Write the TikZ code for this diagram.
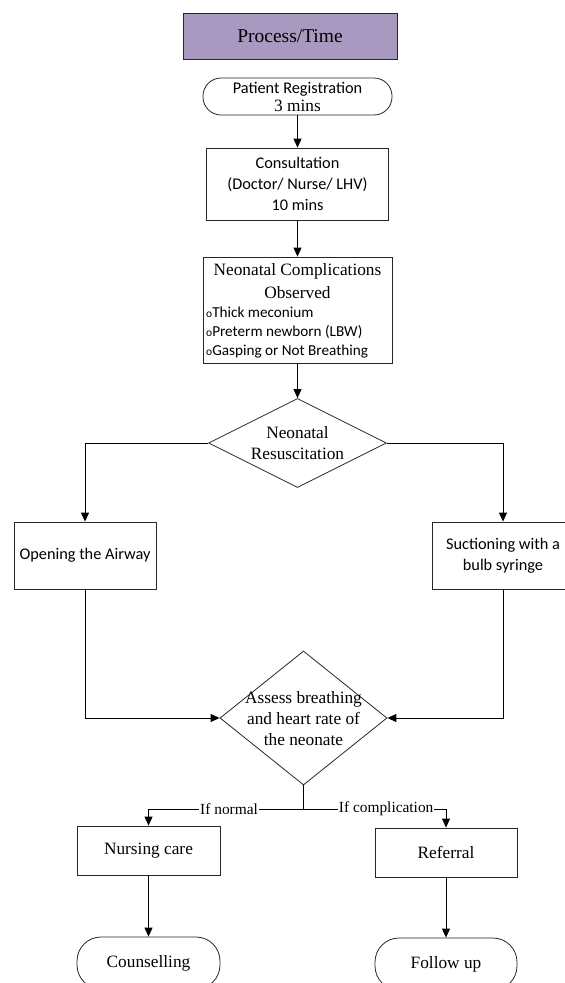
\documentclass[tikz,border=0pt]{standalone}
\usepackage{fontspec}
\setmainfont{Liberation Serif}
\newfontfamily\calib{Carlito}
\usetikzlibrary{shapes.geometric,arrows.meta}
\definecolor{procpurple}{RGB}{168,153,192}
\tikzset{
  base/.style={draw=black!85, line width=0.8pt, inner sep=0pt, align=center},
  boxn/.style={base, rectangle},
  term/.style={base, rectangle, rounded corners=#1},
  dec/.style={base, diamond},
  serif/.style={font=\fontsize{17.3}{21}\selectfont},
  sans/.style={font=\calib\fontsize{16.3}{21}\selectfont},
  conn/.style={draw=black, line width=0.9pt, -{Triangle[length=9pt,width=8pt]}},
  plain/.style={draw=black, line width=0.9pt},
  lbl/.style={fill=white, inner sep=1pt, font=\fontsize{15.4}{18}\selectfont},
}
\begin{document}
\begin{tikzpicture}[x=1pt,y=-1pt]
\path[use as bounding box] (0,0) rectangle (565,983);
\clip (0,0) rectangle (565,983);

% header
\node[boxn, fill=procpurple, minimum width=214pt, minimum height=46pt,
      font=\fontsize{19.5}{22}\selectfont] (proc) at (290,36) {Process/Time};

% main column
\node[term=18pt, minimum width=189pt, minimum height=37pt,
      font=\fontsize{17.3}{18}\selectfont] (reg) at (297.5,96.5)
  {{\calib\fontsize{16.3}{18}\selectfont Patient Registration}\\3 mins};
\node[boxn, sans, minimum width=182pt, minimum height=72pt] (cons) at (297.5,184)
  {Consultation\\(Doctor/ Nurse/ LHV)\\10 mins};
\node[boxn, minimum width=189pt, minimum height=106pt] (comp) at (297.5,310) {};
\node[serif, font=\fontsize{17.3}{23}\selectfont, align=center] (comptitle) at (297.5,281.5)
  {Neonatal Complications\\Observed};
\node[font=\calib\fontsize{15.2}{19}\selectfont, align=left, anchor=west, inner sep=0pt]
  (compbul) at (206,333)
  {{\fontsize{11.5}{11}\selectfont o}Thick meconium\\
   {\fontsize{11.5}{11}\selectfont o}Preterm newborn (LBW)\\
   {\fontsize{11.5}{11}\selectfont o}Gasping or Not Breathing};

\node[dec, minimum width=178pt, minimum height=89pt] (d1) at (297.5,443) {};
\node[serif, align=center] (d1t) at (297.5,443.5) {Neonatal\\Resuscitation};

% branches
\node[boxn, sans, minimum width=142pt, minimum height=67pt] (open) at (85,555.5)
  {Opening the Airway};
\node[boxn, sans, minimum width=142pt, minimum height=67pt] (suct) at (503,555.5)
  {Suctioning with a\\bulb syringe};

\node[dec, minimum width=167pt, minimum height=134pt] (d2) at (303.5,718) {};
\node[serif, align=center] (d2t) at (303.5,719)
  {Assess breathing\\and heart rate of\\the neonate};

% outcomes
\node[boxn, serif, minimum width=143pt, minimum height=49pt] (nurse) at (148.5,850.5)
  {Nursing care};
\node[boxn, serif, minimum width=142pt, minimum height=49pt] (refer) at (446,852.5)
  {Referral};
\node[term=24pt, serif, minimum width=143pt, minimum height=52pt] (couns) at (148.5,963)
  {Counselling};
\node[term=24pt, serif, minimum width=142pt, minimum height=52pt] (follow) at (446,964)
  {Follow up};

\coordinate (split) at (303.5,809);

% connectors
\draw[conn] (reg.south) -- (cons.north);
\draw[conn] (cons.south) -- (comp.north);
\draw[conn] (comp.south) -- (d1.north);
\draw[conn] (d1.west) -| (open.north);
\draw[conn] (d1.east) -| (suct.north);
\draw[conn] (open.south) |- (d2.west);
\draw[conn] (suct.south) |- (d2.east);
\draw[plain] (d2.south) -- (split);
\draw[conn] (split) -| (nurse.north) node[pos=0.24, lbl] (lnorm) {If normal};
\draw[conn] (split) -| (refer.north) node[pos=0.29, lbl] (lcomp) {If complication};
\draw[conn] (nurse.south) -- (couns.north);
\draw[conn] (refer.south) -- (follow.north);
\end{tikzpicture}
\end{document}
